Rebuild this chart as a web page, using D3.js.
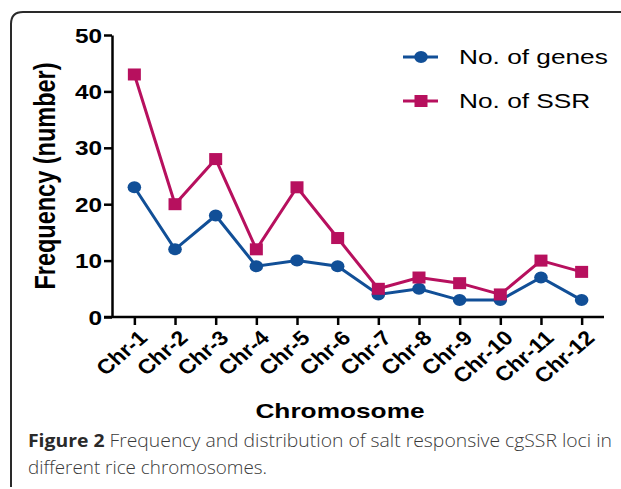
<!DOCTYPE html>
<html>
<head>
<meta charset="utf-8">
<script src="https://cdn.jsdelivr.net/npm/d3@7"></script>
<style>
  html, body { margin: 0; padding: 0; background: #fff; }
  svg { display: block; }
</style>
</head>
<body>
<script>
const categories = ["Chr-1","Chr-2","Chr-3","Chr-4","Chr-5","Chr-6","Chr-7","Chr-8","Chr-9","Chr-10","Chr-11","Chr-12"];
const genes = [23, 12, 18, 9, 10, 9, 4, 5, 3, 3, 7, 3];
const ssr   = [43, 20, 28, 12, 23, 14, 5, 7, 6, 4, 10, 8];
const yTicks = [0, 10, 20, 30, 40, 50];
const seriesNames = ["No. of genes", "No. of SSR"];
const yTitle = "Frequency (number)";
const xTitle = "Chromosome";
const captionBold = "Figure 2";
const captionLine1 = " Frequency and distribution of salt responsive cgSSR loci in";
const captionLine2 = "different rice chromosomes.";

const W = 621, H = 489;
const SX = 1.25; // horizontal stretch of the original picture
const blue = "#114f97", pink = "#b7105e";

const svg = d3.select("body").append("svg").attr("width", W).attr("height", H);

// frame
svg.append("path")
  .attr("d", "M11,487 L11,24 Q11,12 23,12 L621,12")
  .attr("fill", "none").attr("stroke", "#2a2a2a").attr("stroke-width", 2);

const x = d3.scalePoint().domain(categories).range([112, 604]).padding(0.55);
const y = d3.scaleLinear().domain([0, 50]).range([317, 35]);

const font = "Arial, 'Liberation Sans', Helvetica, sans-serif";

// y axis
const gy = svg.append("g").attr("transform", "translate(112,0)")
  .call(d3.axisLeft(y).tickValues(yTicks).tickSize(8).tickSizeOuter(0).tickPadding(3));
gy.select(".domain").attr("stroke", "#000").attr("stroke-width", 2.5);
gy.selectAll(".tick line").attr("stroke", "#000").attr("stroke-width", 2.5);
gy.selectAll(".tick text").remove();
gy.selectAll(".tick").append("text")
  .attr("transform", "translate(-10,0) scale(" + SX + ",1)")
  .attr("text-anchor", "end").attr("dy", "0.36em")
  .attr("font-family", font).attr("font-weight", "bold").attr("font-size", 19.5)
  .attr("fill", "#000").text(d => d);

// x axis
const gx = svg.append("g").attr("transform", "translate(0,317)")
  .call(d3.axisBottom(x).tickSize(8).tickSizeOuter(0));
gx.select(".domain").attr("stroke", "#000").attr("stroke-width", 2.5)
  .attr("d", "M104,0H604");
gx.selectAll(".tick line").attr("stroke", "#000").attr("stroke-width", 2.5);
gx.selectAll(".tick text").remove();
gx.selectAll(".tick").append("text")
  .attr("transform", "translate(8,17) scale(1.12,1) rotate(-44)")
  .attr("text-anchor", "end").attr("dy", "0.36em")
  .attr("font-family", font).attr("font-weight", "bold").attr("font-size", 20.5)
  .attr("fill", "#000").text(d => d);

// lines
const line = d3.line().x((d, i) => x(categories[i])).y(d => y(d));
svg.append("path").datum(ssr).attr("d", line)
  .attr("fill", "none").attr("stroke", pink).attr("stroke-width", 3);
svg.append("path").datum(genes).attr("d", line)
  .attr("fill", "none").attr("stroke", blue).attr("stroke-width", 3);

svg.append("g").selectAll("ellipse").data(genes).join("ellipse")
  .attr("cx", (d, i) => x(categories[i])).attr("cy", d => y(d))
  .attr("rx", 6.8).attr("ry", 6).attr("fill", blue);
svg.append("g").selectAll("rect").data(ssr).join("rect")
  .attr("x", (d, i) => x(categories[i]) - 6.5).attr("y", d => y(d) - 6)
  .attr("width", 13).attr("height", 12).attr("fill", pink);

// legend
const leg = svg.append("g");
const legY = [57, 101];
[blue, pink].forEach((c, i) => {
  leg.append("line").attr("x1", 403).attr("x2", 438).attr("y1", legY[i]).attr("y2", legY[i])
    .attr("stroke", c).attr("stroke-width", 3);
  if (i === 0) leg.append("ellipse").attr("cx", 421).attr("cy", legY[i]).attr("rx", 6.8).attr("ry", 6).attr("fill", c);
  else leg.append("rect").attr("x", 414.5).attr("y", legY[i] - 6).attr("width", 13).attr("height", 12).attr("fill", c);
  leg.append("text").attr("transform", "translate(459," + legY[i] + ") scale(" + SX + ",1)")
    .attr("dy", "0.35em").attr("font-family", font).attr("font-size", 21).attr("fill", "#000")
    .text(seriesNames[i]);
});

// axis titles
svg.append("text").attr("transform", "translate(45,176) scale(" + SX + ",1) rotate(-90)")
  .attr("text-anchor", "middle").attr("dy", "0.35em")
  .attr("font-family", font).attr("font-weight", "bold").attr("font-size", 23.5).attr("fill", "#000")
  .text(yTitle);
svg.append("text").attr("transform", "translate(340,418) scale(" + SX + ",1)")
  .attr("text-anchor", "middle")
  .attr("font-family", font).attr("font-weight", "bold").attr("font-size", 21).attr("fill", "#000")
  .text(xTitle);

// caption
const capFont = "'Open Sans', 'Noto Sans', sans-serif";
const cap1 = svg.append("text").attr("x", 28).attr("y", 447)
  .attr("font-family", capFont).attr("font-size", 18).attr("fill", "#3a3a3a")
  .attr("textLength", 584).attr("lengthAdjust", "spacingAndGlyphs");
cap1.append("tspan").attr("font-weight", "bold").attr("fill", "#2a2a2a").text(captionBold);
cap1.append("tspan").attr("font-weight", 300).text(captionLine1);
svg.append("text").attr("x", 28).attr("y", 474)
  .attr("font-family", capFont).attr("font-size", 18).attr("font-weight", 300).attr("fill", "#3a3a3a")
  .attr("textLength", 239).attr("lengthAdjust", "spacingAndGlyphs")
  .text(captionLine2);
</script>
</body>
</html>
